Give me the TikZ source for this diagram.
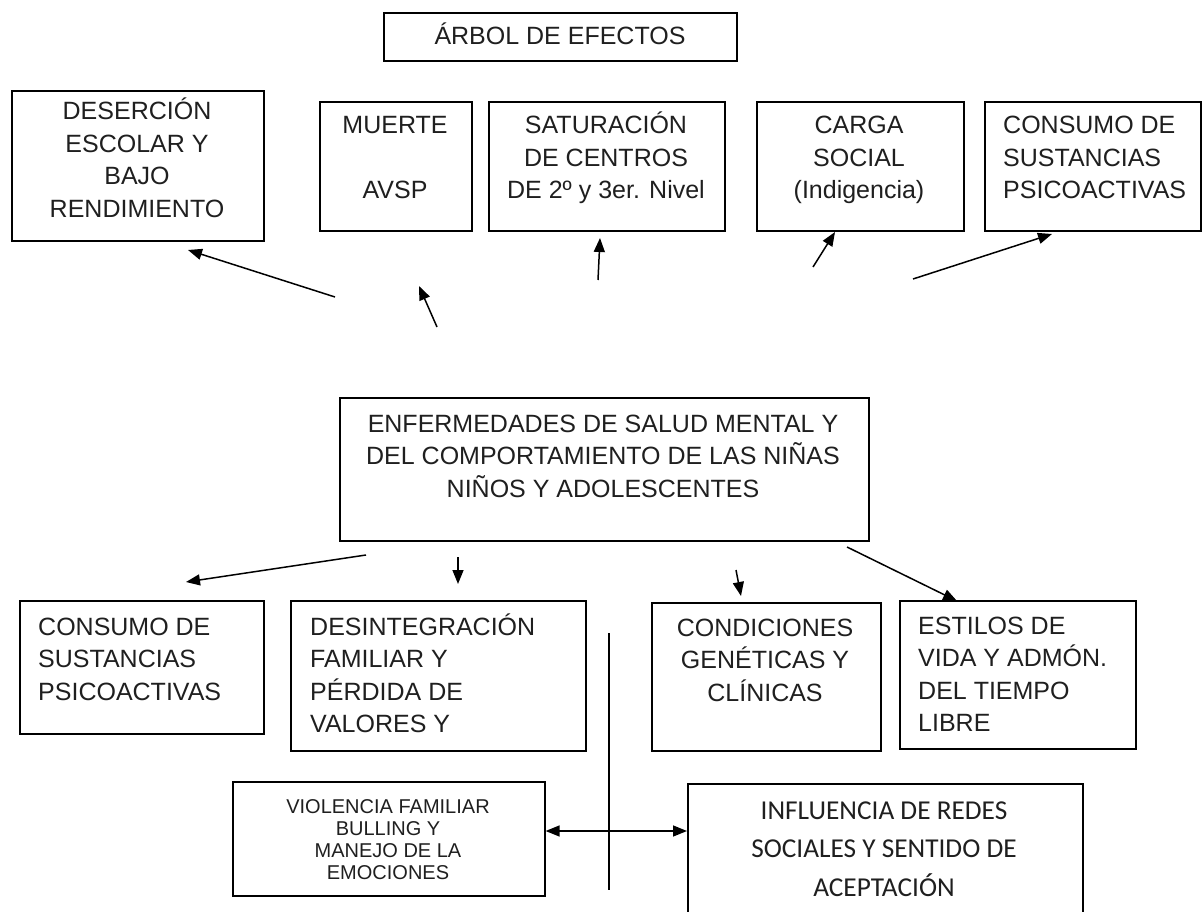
\documentclass[tikz,border=0pt]{standalone}
\usepackage{fontspec}
\setmainfont{Liberation Sans}
\newfontfamily\calib{Carlito}
\usetikzlibrary{arrows.meta}
\begin{document}
\begin{tikzpicture}[x=1pt,y=-1pt,
  box/.style={draw, line width=1.6pt, inner sep=0pt, anchor=north west},
  txt/.style={inner sep=0pt, anchor=base, font=\fontsize{25}{32.5}\selectfont, align=center, text=black!88},
  ltxt/.style={txt, align=left, anchor=base west},
  arr/.style={line width=1.5pt, -{Triangle[length=14pt,width=11pt]}},
  darr/.style={line width=1.5pt, {Triangle[length=14pt,width=11pt]}-{Triangle[length=14pt,width=11pt]}}]
\useasboundingbox (0,0) rectangle (1203,912);
% boxes
\node[box, minimum width=353, minimum height=48] (title) at (383,12) {};
\node[box, minimum width=252, minimum height=150] (des) at (11,90) {};
\node[box, minimum width=152, minimum height=129] (mue) at (319,101) {};
\node[box, minimum width=236, minimum height=129] (sat) at (488,101) {};
\node[box, minimum width=207, minimum height=129] (car) at (756,101) {};
\node[box, minimum width=216, minimum height=129] (cst) at (984,101) {};
\node[box, minimum width=529, minimum height=143] (cen) at (339,397) {};
\node[box, minimum width=244, minimum height=133] (csb) at (19,600) {};
\node[box, minimum width=295, minimum height=150] (dsi) at (290,600) {};
\node[box, minimum width=229, minimum height=148] (cnd) at (651,602) {};
\node[box, minimum width=236, minimum height=148] (est) at (899,600) {};
\node[box, minimum width=312, minimum height=114] (vio) at (232,781) {};
\node[box, minimum width=395, minimum height=150] (inf) at (687,783) {};
% texts (anchor = baseline of last line)
\node[txt] (t-title) at (560,45) {ÁRBOL DE EFECTOS};
\node[txt] (t-des) at (137,217.5) {DESERCIÓN\\ESCOLAR Y\\BAJO\\RENDIMIENTO};
\node[txt] (t-mue) at (395,199) {MUERTE\\[32.5pt]AVSP};
\node[txt] (t-sat) at (606,199) {SATURACIÓN\\DE CENTROS\\DE 2º y 3er. Nivel};
\node[txt] (t-car) at (859,199) {CARGA\\SOCIAL\\(Indigencia)};
\node[ltxt] (t-cst) at (1003,199) {CONSUMO DE\\SUSTANCIAS\\PSICOACTIVAS};
\node[txt] (t-cen) at (603,497) {ENFERMEDADES DE SALUD MENTAL Y\\DEL COMPORTAMIENTO DE LAS NIÑAS\\NIÑOS Y ADOLESCENTES};
\node[ltxt] (t-csb) at (38,700) {CONSUMO DE\\SUSTANCIAS\\PSICOACTIVAS};
\node[ltxt] (t-dsi) at (310,732.5) {DESINTEGRACIÓN\\FAMILIAR Y\\PÉRDIDA DE\\VALORES Y};
\node[txt] (t-cnd) at (765,701) {CONDICIONES\\GENÉTICAS Y\\CLÍNICAS};
\node[ltxt] (t-est) at (918,731.5) {ESTILOS DE\\VIDA Y ADMÓN.\\DEL TIEMPO\\LIBRE};
\node[txt, font=\fontsize{20}{21.7}\selectfont] (t-vio) at (388,879) {VIOLENCIA FAMILIAR\\BULLING Y\\MANEJO DE LA\\EMOCIONES};
\node[txt, font=\calib\fontsize{27.3}{38.5}\selectfont] (t-inf) at (884,896) {INFLUENCIA DE REDES\\SOCIALES Y SENTIDO DE\\ACEPTACIÓN};
% arrow ends
\coordinate (a1s) at (335,297); \coordinate (a1e) at (188,250);
\coordinate (a2s) at (437,327); \coordinate (a2e) at (419,286);
\coordinate (a3s) at (598,280); \coordinate (a3e) at (600,238);
\coordinate (a4s) at (813,267); \coordinate (a4e) at (835,232);
\coordinate (a5s) at (913,279); \coordinate (a5e) at (1052,234);
\coordinate (b1s) at (366,555); \coordinate (b1e) at (186,582);
\coordinate (b2s) at (458,557); \coordinate (b2e) at (458,584);
\coordinate (b3s) at (736,570); \coordinate (b3e) at (741,596);
\coordinate (b4s) at (847,547); \coordinate (b4e) at (957,601);
\coordinate (v1) at (609,633); \coordinate (v2) at (609,890);
\coordinate (dy) at (0,831);
\draw[arr] (a1s) -- (a1e);
\draw[arr] (a2s) -- (a2e);
\draw[arr] (a3s) -- (a3e);
\draw[arr] (a4s) -- (a4e);
\draw[arr] (a5s) -- (a5e);
\draw[arr] (b1s) -- (b1e);
\draw[arr] (b2s) -- (b2e);
\draw[arr] (b3s) -- (b3e);
\draw[arr] (b4s) -- (b4e);
\draw[line width=1.5pt] (v1) -- (v2);
\draw[darr] (vio.east |- dy) -- (inf.west |- dy);
\end{tikzpicture}
\end{document}
